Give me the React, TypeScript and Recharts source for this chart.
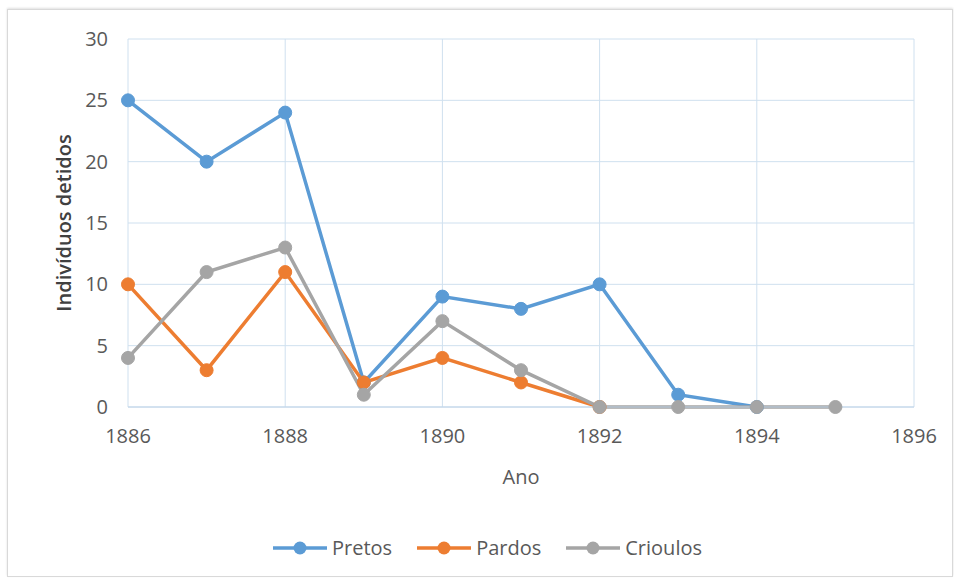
import { LineChart, Line, XAxis, YAxis, CartesianGrid, Legend } from "recharts"

const years = [1886, 1887, 1888, 1889, 1890, 1891, 1892, 1893, 1894, 1895]
const pretos = [25, 20, 24, 2, 9, 8, 10, 1, 0, null]
const pardos = [10, 3, 11, 2, 4, 2, 0, null, null, null]
const crioulos = [4, 11, 13, 1, 7, 3, 0, 0, 0, 0]

const xTicks = [1886, 1888, 1890, 1892, 1894, 1896]
const yTicks = [0, 5, 10, 15, 20, 25, 30]

const series = [
    { key: "pretos", name: "Pretos", color: "#5B9BD5" },
    { key: "pardos", name: "Pardos", color: "#ED7D31" },
    { key: "crioulos", name: "Crioulos", color: "#A5A5A5" },
]

const data = years.map((ano, i) => ({
    ano,
    pretos: pretos[i],
    pardos: pardos[i],
    crioulos: crioulos[i],
}))

const font = "'Open Sans', sans-serif"
const textColor = "#595959"

function LegendContent() {
    return (
        <div style={{ display: "flex", justifyContent: "center", gap: 24, fontFamily: font, fontSize: 20, color: textColor }}>
            {series.map((s) => (
                <div key={s.key} style={{ display: "flex", alignItems: "center" }}>
                    <svg width={56} height={20} style={{ marginRight: 4 }}>
                        <line x1={1} y1={10} x2={55} y2={10} stroke={s.color} strokeWidth={3.5} />
                        <circle cx={28} cy={10} r={6.5} fill={s.color} />
                    </svg>
                    <span>{s.name}</span>
                </div>
            ))}
        </div>
    )
}

export default function App() {
    return (
        <div style={{ position: "absolute", left: 0, top: 0, width: 954, height: 578, background: "#fff" }}>
            <div
                style={{
                    position: "absolute",
                    left: 7,
                    top: 9,
                    width: 944,
                    height: 566,
                    border: "1px solid #d9d9d9",
                    boxShadow: "0 -1px 2px rgba(0,0,0,0.12)",
                }}
            />
            <div style={{ position: "absolute", left: 0, top: 0 }}>
                <LineChart width={954} height={578} data={data} margin={{ top: 39, right: 40, left: 68, bottom: 131 }}>
                    <CartesianGrid stroke="#cfe0ef" strokeWidth={1} />
                    <XAxis
                        dataKey="ano"
                        type="number"
                        domain={[1886, 1896]}
                        ticks={xTicks}
                        height={40}
                        tickLine={false}
                        tickSize={0}
                        tickMargin={22}
                        axisLine={{ stroke: "#bfd4e8" }}
                        tick={{ fill: textColor, fontSize: 20, fontFamily: font }}
                        label={{ value: "Ano", position: "bottom", offset: 23, fill: textColor, fontSize: 20, fontFamily: font }}
                    />
                    <YAxis
                        domain={[0, 30]}
                        ticks={yTicks}
                        width={60}
                        tickLine={false}
                        axisLine={false}
                        tickSize={0}
                        tickMargin={20}
                        tick={{ fill: textColor, fontSize: 20, fontFamily: font }}
                        label={{
                            value: "Indivíduos detidos",
                            angle: -90,
                            position: "insideLeft",
                            offset: -4,
                            style: { textAnchor: "middle" },
                            fill: "#404040",
                            fontSize: 20,
                            fontWeight: 600,
                            fontFamily: font,
                        }}
                    />
                    {series.map((s) => (
                        <Line
                            key={s.key}
                            type="linear"
                            dataKey={s.key}
                            name={s.name}
                            stroke={s.color}
                            strokeWidth={3.5}
                            dot={{ r: 6.5, fill: s.color, stroke: s.color, strokeWidth: 1 }}
                            isAnimationActive={false}
                        />
                    ))}
                    <Legend
                        verticalAlign="middle"
                        align="center"
                        content={<LegendContent />}
                        wrapperStyle={{ top: 534, left: 10, width: 954 }}
                    />
                </LineChart>
            </div>
        </div>
    )
}
